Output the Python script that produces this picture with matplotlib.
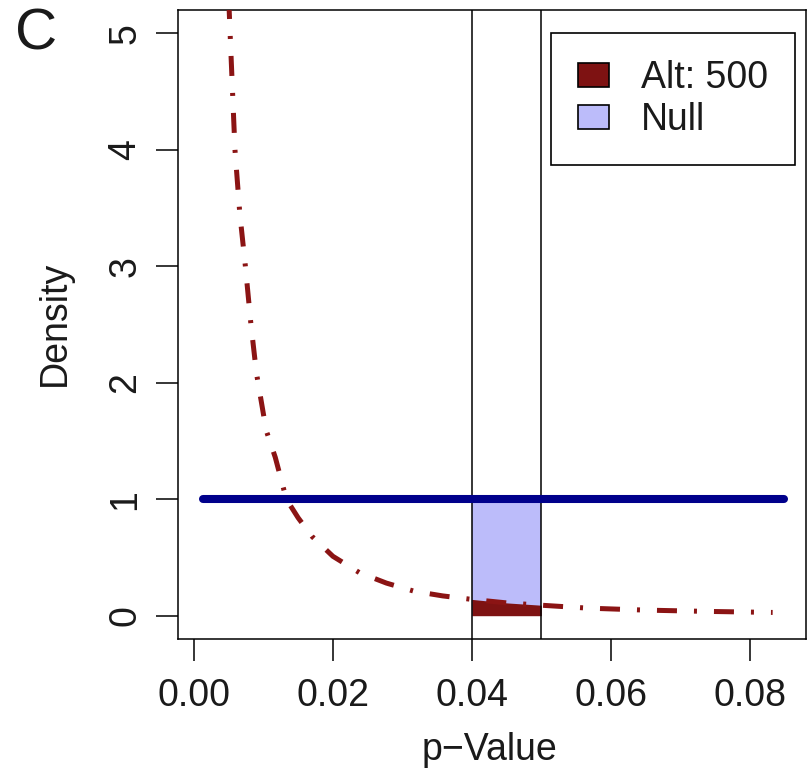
import matplotlib
matplotlib.use("Agg")
import matplotlib.pyplot as plt
import matplotlib.patches as mpatches
import numpy as np

# p-value density under the alternative (n = 500)
alt_p = [0.0048, 0.0052, 0.0059, 0.0066, 0.0074, 0.0082, 0.0090, 0.0104,
         0.0117, 0.0133, 0.0150, 0.0170, 0.0200, 0.0238, 0.0277, 0.0317,
         0.0358, 0.0400, 0.0450, 0.0500, 0.0567, 0.0650, 0.0738, 0.0833]
alt_d = [5.60, 5.00, 4.00, 3.45, 3.00, 2.50, 2.08, 1.59,
         1.36, 1.00, 0.84, 0.68, 0.51, 0.37, 0.28, 0.21,
         0.17, 0.14, 0.11, 0.09, 0.065, 0.048, 0.037, 0.028]

# uniform null density
null_p = [0.0013, 0.0400, 0.0500, 0.0850]
null_d = [1.0, 1.0, 1.0, 1.0]

window = [0.04, 0.05]
xticks = [0.00, 0.02, 0.04, 0.06, 0.08]
xticklabels = ["0.00", "0.02", "0.04", "0.06", "0.08"]
yticks = [0, 1, 2, 3, 4, 5]

plt.rcParams['font.family'] = ['Liberation Sans', 'DejaVu Sans']
plt.rcParams['font.size'] = 27
plt.rcParams['text.color'] = "#1a1a1a"
plt.rcParams['xtick.labelcolor'] = "#1a1a1a"
plt.rcParams['ytick.labelcolor'] = "#1a1a1a"

fig = plt.figure(figsize=(8.1, 7.78), dpi=100)
ax = fig.add_axes([178/810, 1 - 639/778, 628/810, 629/778])

ap = np.array(alt_p)
ad = np.array(alt_d)
np_ = np.array(null_p)
nd = np.array(null_d)

# shaded window: null area and alternative area
m_null = (np_ >= window[0]) & (np_ <= window[1])
ax.fill_between(np_[m_null], 0, nd[m_null], color="#BCBCFA", lw=0, zorder=1)
m_alt = (ap >= window[0]) & (ap <= window[1])
ax.fill_between(ap[m_alt], 0, ad[m_alt], color="#7E1212", lw=0, zorder=2)

for v in window:
    ax.axvline(v, color="black", lw=1.1, zorder=3)

ax.plot(np_, nd, color="#00008B", lw=5.8, solid_capstyle="round", zorder=4)
ax.plot(ap, ad, color="#8B1414", lw=3.6, zorder=5,
        linestyle=(0, (4.0, 3.4, 0.6, 3.4)))

ax.set_xlim(-0.0023, 0.0881)
ax.set_ylim(-0.2, 5.2)
ax.set_xticks(xticks)
ax.set_xticklabels(xticklabels)
ax.set_yticks(yticks)
ax.set_yticklabels([str(v) for v in yticks], rotation=90, va="center")
ax.tick_params(length=16, width=1.1, direction="out")
ax.tick_params(axis="x", pad=12)
ax.tick_params(axis="y", pad=9)
for s in ax.spines.values():
    s.set_linewidth(1.1)

handles = [mpatches.Patch(facecolor="#7E1212", edgecolor="black", lw=1.2, label="Alt: 500"),
           mpatches.Patch(facecolor="#BCBCFA", edgecolor="black", lw=1.2, label="Null")]
leg = ax.legend(handles=handles, loc="upper right", bbox_to_anchor=(0.982, 0.963),
                fancybox=False, framealpha=1, edgecolor="black", fontsize=27,
                handlelength=0.82, handleheight=0.62, handletextpad=0.85,
                borderpad=0.72, labelspacing=0.15, borderaxespad=0)
leg.get_frame().set_linewidth(1.2)

fig.text(0.604, 1 - 760/778, "p\u2212Value", ha="center", va="baseline")
fig.text(55/810, 1 - 323/778, "Density", rotation=90, ha="center", va="center")
fig.text(0.018, 1 - 50/778, "C", fontsize=42, ha="left", va="baseline")

fig.savefig("out.png", dpi=100)
